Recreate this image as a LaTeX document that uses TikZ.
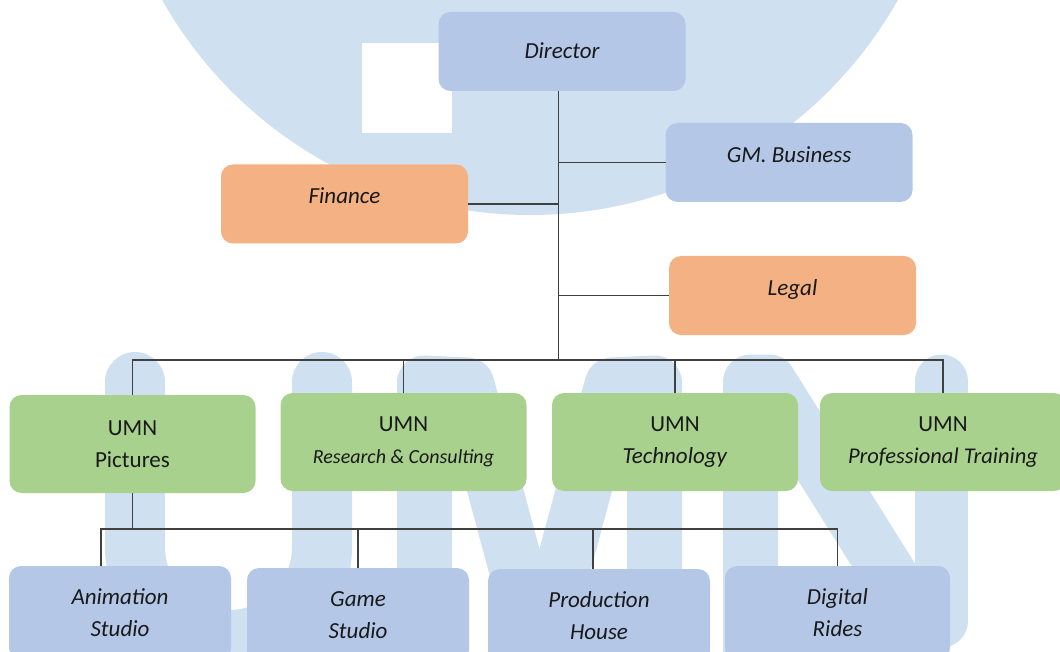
\documentclass[tikz,border=0pt]{standalone}
\usepackage{fontspec}
\setmainfont{Carlito}
\definecolor{wmblue}{RGB}{207,224,241}
\definecolor{boxblue}{RGB}{180,199,231}
\definecolor{boxorange}{RGB}{244,177,131}
\definecolor{boxgreen}{RGB}{169,209,142}
\definecolor{linegray}{RGB}{64,64,64}
\tikzset{
  orgbox/.style={rounded corners=12pt, inner sep=0pt, outer sep=0pt, align=center,
    text=black!90, font=\fontsize{23}{32}\selectfont\itshape},
  topbox/.style={orgbox, minimum width=247pt, minimum height=79pt,
    text height=16pt, text depth=16pt},
  unitbox/.style={orgbox, fill=boxgreen, minimum width=246pt, minimum height=98pt,
    font=\fontsize{23}{32}\selectfont},
  subbox/.style={orgbox, fill=boxblue, minimum width=222pt, minimum height=94pt},
  link/.style={draw=linegray, line width=1.3pt},
  wmstroke/.style={draw=wmblue, line cap=round, line join=round}
}
\begin{document}
\begin{tikzpicture}[x=1pt,y=-1pt]
    \useasboundingbox (0,0) rectangle (1060,652);
    \clip (0,0) rectangle (1060,652);
    % watermark
    \fill[wmblue] (530,-207) circle[radius=422pt];
    \fill[white] (362,43) rectangle (452,133);
    \draw[wmstroke, line width=60pt, rounded corners=93pt] (135,382) -- (135,640) -- (322,640) -- (322,382);
    \draw[wmstroke, line width=55pt] (424.5,720) -- (424.5,383) -- (467,385) -- (539.5,655);
    \draw[wmstroke, line width=55pt] (654.5,720) -- (654.5,383) -- (612,385) -- (539.5,655);
    \draw[wmstroke, line width=55pt] (750.5,720) -- (750.5,382) -- (769,382) -- (921,625);
    \draw[wmstroke, line width=53pt] (941.5,381) -- (941.5,621);
    % top level
    \node[topbox, fill=boxblue, text depth=1pt] (director) at (562,51.5) {Director};
    \node[topbox, fill=boxblue] (gmbiz) at (789,162.5) {GM. Business};
    \node[topbox, fill=boxorange] (finance) at (344.5,204) {Finance};
    \node[topbox, fill=boxorange] (legal) at (792.5,295.5) {Legal};
    % units
    \node[unitbox] (pictures) at (132.5,444) {UMN\\Pictures};
    \node[unitbox] (research) at (403.5,442) {UMN\\{\fontsize{20}{32}\selectfont\itshape Research \& Consulting}};
    \node[unitbox] (technology) at (675,442) {UMN\\\textit{Technology}};
    \node[unitbox] (training) at (943,442) {UMN\\{\fontsize{22.5}{32}\selectfont\itshape Professional Training}};
    % studios
    \node[subbox] (anim) at (120,613) {Animation\\Studio};
    \node[subbox] (game) at (358,615) {Game\\Studio};
    \node[subbox] (production) at (599,616) {Production\\House};
    \node[subbox, minimum width=225pt] (digital) at (837.5,613) {Digital\\Rides};
    % connectors
    \coordinate (bus) at (558.5,360);
    \coordinate (sa) at (101,529);
    \coordinate (sp) at (593,529);
    \draw[link] (bus |- director.south) -- (bus);
    \draw[link] (bus |- gmbiz.west) -- (gmbiz.west);
    \draw[link] (finance.east) -- (bus |- finance.east);
    \draw[link] (bus |- legal.west) -- (legal.west);
    \draw[link] (pictures.north) -- (pictures.north |- bus) -- (training.north |- bus) -- (training.north);
    \draw[link] (research.north) -- (research.north |- bus);
    \draw[link] (technology.north) -- (technology.north |- bus);
    \draw[link] (pictures.south) -- (pictures.south |- sa);
    \draw[link] (sa |- anim.north) -- (sa) -- (digital.north |- sa) -- (digital.north);
    \draw[link] (game.north) -- (game.north |- sa);
    \draw[link] (sp) -- (sp |- production.north);
\end{tikzpicture}
\end{document}
